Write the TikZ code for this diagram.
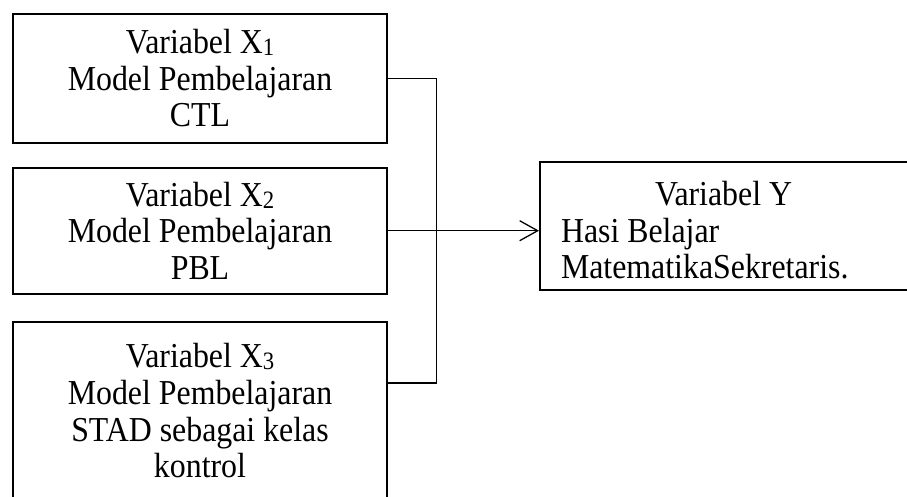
\documentclass[tikz,border=0pt]{standalone}
\usepackage{fontspec}
\setmainfont{Liberation Serif}[FakeStretch=0.91]
\usetikzlibrary{positioning, arrows.meta}
\newcommand{\idx}[1]{\raisebox{-2pt}{\fontsize{25}{25}\selectfont #1}}

\begin{document}
\begin{tikzpicture}[x=1pt, y=-1pt,
	box/.style={rectangle, draw, line width=2pt, minimum width=374pt, inner sep=0pt, align=center, font=\fontsize{35}{36.7}\selectfont},
	link/.style={line width=1.3pt}]
			\useasboundingbox (0,0) rectangle (907,496);
			\clip (0,0) rectangle (907,496);
			\node[box, minimum height=129pt, anchor=north west] (x1) at (12,12.7) {Variabel X\idx{1}\\Model Pembelajaran\\CTL};
			\node[box, minimum height=126pt, below = 23pt of x1] (x2) {Variabel X\idx{2}\\Model Pembelajaran\\PBL};
			\node[box, minimum height=177.5pt, below = 26.3pt of x2] (x3) {Variabel X\idx{3}\\Model Pembelajaran\\STAD sebagai kelas\\kontrol};
			\node[box, minimum width=400pt, minimum height=128.3pt, text width=358pt, text height=33pt, align=flush left, anchor=north west] (y) at (539,160.7) {\hspace*{94pt}Variabel Y\\Hasi Belajar\\MatematikaSekretaris.};
			\coordinate (bus) at (436.5,78.3);
			\coordinate (busend) at (436.5,383);
			
			\draw[link] (x1.east) -- (x1.east -| bus) -- (busend) -- (busend -| x3.east);
			\draw[link, -{Straight Barb[length=18pt, width=20pt]}] (x2.east) -- (x2.east -| y.west);
			
		\end{tikzpicture}
\end{document}
